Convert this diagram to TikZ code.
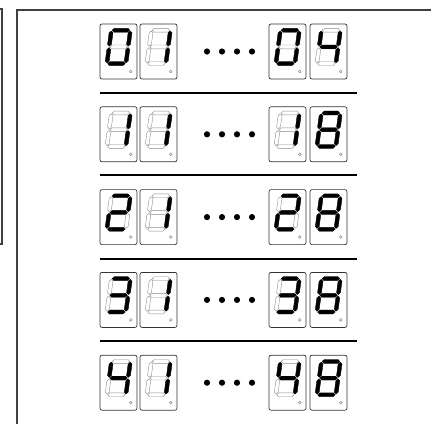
\documentclass[tikz,border=0pt]{standalone}
\usetikzlibrary{calc}

% one segment as a pointed bar: horizontal (u1,u2,v) and vertical (u,v1,v2)
\newcommand{\hseg}[3]{(#1,#3) -- (#1+1.9,#3+1.9) -- (#2-1.9,#3+1.9) -- (#2,#3) -- (#2-1.9,#3-1.9) -- (#1+1.9,#3-1.9) -- cycle}
\newcommand{\vseg}[3]{(#1,#2) -- (#1+1.9,#2+1.9) -- (#1+1.9,#3-1.9) -- (#1,#3) -- (#1-1.9,#3-1.9) -- (#1-1.9,#2+1.9) -- cycle}
\newcommand{\sega}{\hseg{0.8}{18.2}{33.4}}
\newcommand{\segb}{\vseg{19}{17.5}{32.6}}
\newcommand{\segc}{\vseg{19}{0.8}{15.9}}
\newcommand{\segd}{\hseg{0.8}{18.2}{0}}
\newcommand{\sege}{\vseg{0}{0.8}{15.9}}
\newcommand{\segf}{\vseg{0}{17.5}{32.6}}
\newcommand{\segg}{\hseg{0.8}{18.2}{16.7}}
\newcommand{\segsof}[1]{\ifcase#1 a,b,c,d,e,f\or b,c\or a,b,d,e,g\or a,b,c,d,g\or b,c,f,g\or a,c,d,f,g\or a,c,d,e,f,g\or a,b,c\or a,b,c,d,e,f,g\or a,b,c,d,f,g\fi}

% one display cell, #1,#2 top left corner, #3 digit
\newcommand{\sevenseg}[3]{%
  \begin{scope}[shift={(#1,#2)}]
    \draw[dbox] (0,0) rectangle (37,55);
    \draw[dpoint] (30.8,47.5) circle (1.4pt);
    \begin{scope}[shift={(6.9,39.6)}, y=1pt, xslant=0.135]
      \foreach \s in {a,b,c,d,e,f,g} {%
        \expandafter\let\expandafter\segpath\csname seg\s\endcsname
        \draw[segoff] \segpath;}
      \edef\litlist{\segsof{#3}}%
      \foreach \s in \litlist {%
        \expandafter\let\expandafter\segpath\csname seg\s\endcsname
        \filldraw[segon] \segpath;}
    \end{scope}
  \end{scope}}

\begin{document}
\begin{tikzpicture}[x=1pt, y=-1pt,
  frame/.style={draw=black!75, line width=1.1pt},
  dbox/.style={draw=black!80, line width=0.7pt, rounded corners=2pt},
  segoff/.style={draw=black!45, line width=0.4pt},
  segon/.style={fill=black, draw=black, line width=0.3pt},
  dpoint/.style={draw=black!55, line width=0.4pt},
  sep/.style={draw=black, line width=1.5pt},
  dot/.style={fill=black}
]
\useasboundingbox (0,0) rectangle (431,424);
% frames
\draw[frame] (0,9) -- (2,9) -- (2,244) -- (0,244);
\draw[frame] (431,10) -- (17,10) -- (17,424);

% rows of displays
\foreach \t/\u [count=\i from 0] in {0/4,1/8,2/8,3/8,4/8} {
  \pgfmathsetmacro\ytop{24+82.8*\i}
  \sevenseg{100}{\ytop}{\t}
  \sevenseg{140}{\ytop}{1}
  \sevenseg{269}{\ytop}{\t}
  \sevenseg{310}{\ytop}{\u}
  \foreach \xd in {207,222,237,252}
    \fill[dot] (\xd,\ytop+27.5) circle (3.1pt);
}
% separators
\foreach \ys in {93,175,259,341}
  \draw[sep] (100,\ys) -- (357,\ys);
\end{tikzpicture}
\end{document}
